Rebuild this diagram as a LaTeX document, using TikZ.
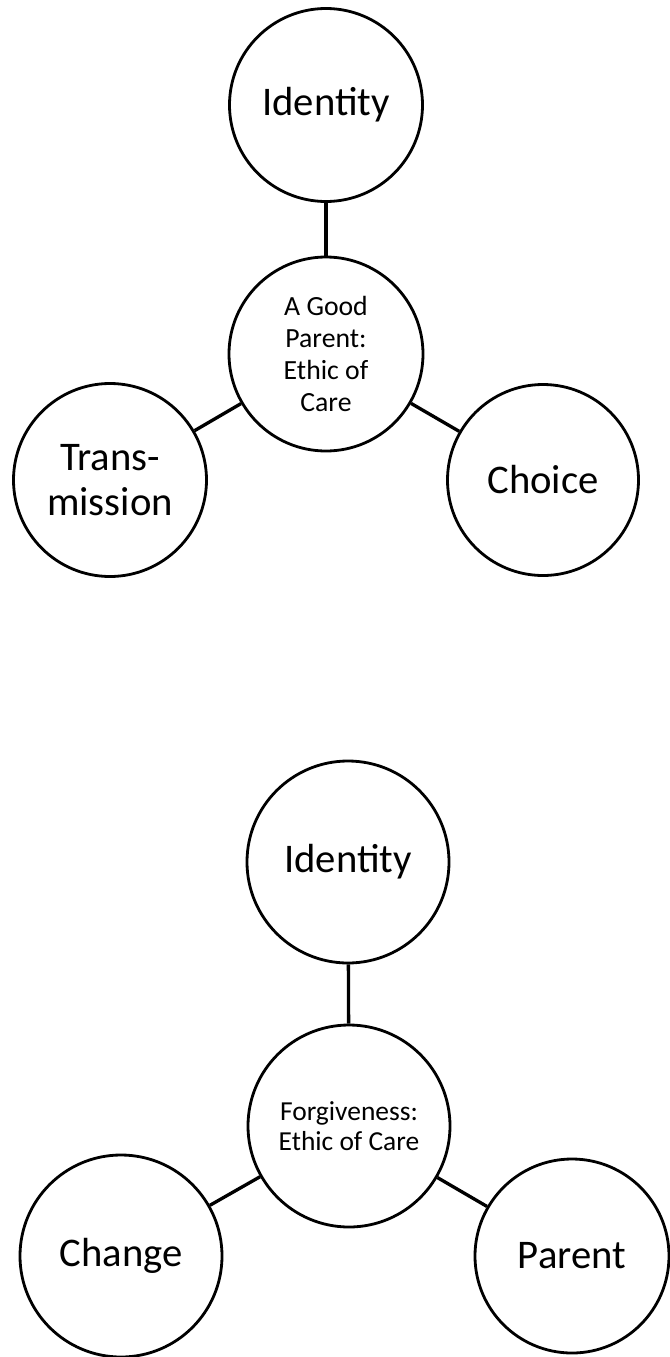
\documentclass[tikz,border=0pt]{standalone}
\usepackage{fontspec}
\setmainfont{Carlito}
\begin{document}
\begin{tikzpicture}[x=0.75pt,y=-0.75pt,
  bub/.style={circle,draw,line width=2.1pt,inner sep=0pt,align=center,
    font=\fontsize{30.5}{33.75}\selectfont},
  hubA/.style={bub,font=\fontsize{20.8}{24.2}\selectfont},
  hubB/.style={bub,font=\fontsize{20.6}{22.5}\selectfont},
  link/.style={line width=2.5pt}]
\useasboundingbox (0,0) rectangle (669,1357);
% top diagram
\node[bub,minimum size=144.75pt] (id1) at (326,105) {Identity};
\node[hubA,minimum size=145.5pt] (hub1) at (326,354) {A Good\\Parent:\\Ethic of\\Care};
\node[bub,minimum size=144.75pt] (trans) at (110,480) {Trans-\\mission};
\node[bub,minimum size=143.25pt] (choice) at (543,480) {Choice};
\draw[link] (id1) -- (hub1);
\draw[link] (hub1) -- (trans);
\draw[link] (hub1) -- (choice);
% bottom diagram
\node[bub,minimum size=151.5pt] (id2) at (348,862) {Identity};
\node[hubB,minimum size=151.5pt] (hub2) at (349,1126) {Forgiveness:\\Ethic of Care};
\node[bub,minimum size=151.5pt] (change) at (121,1256) {Change};
\node[bub,minimum size=145.5pt] (parent) at (572,1256) {Parent};
\draw[link] (id2) -- (hub2);
\draw[link] (hub2) -- (change);
\draw[link] (hub2) -- (parent);
\end{tikzpicture}
\end{document}
